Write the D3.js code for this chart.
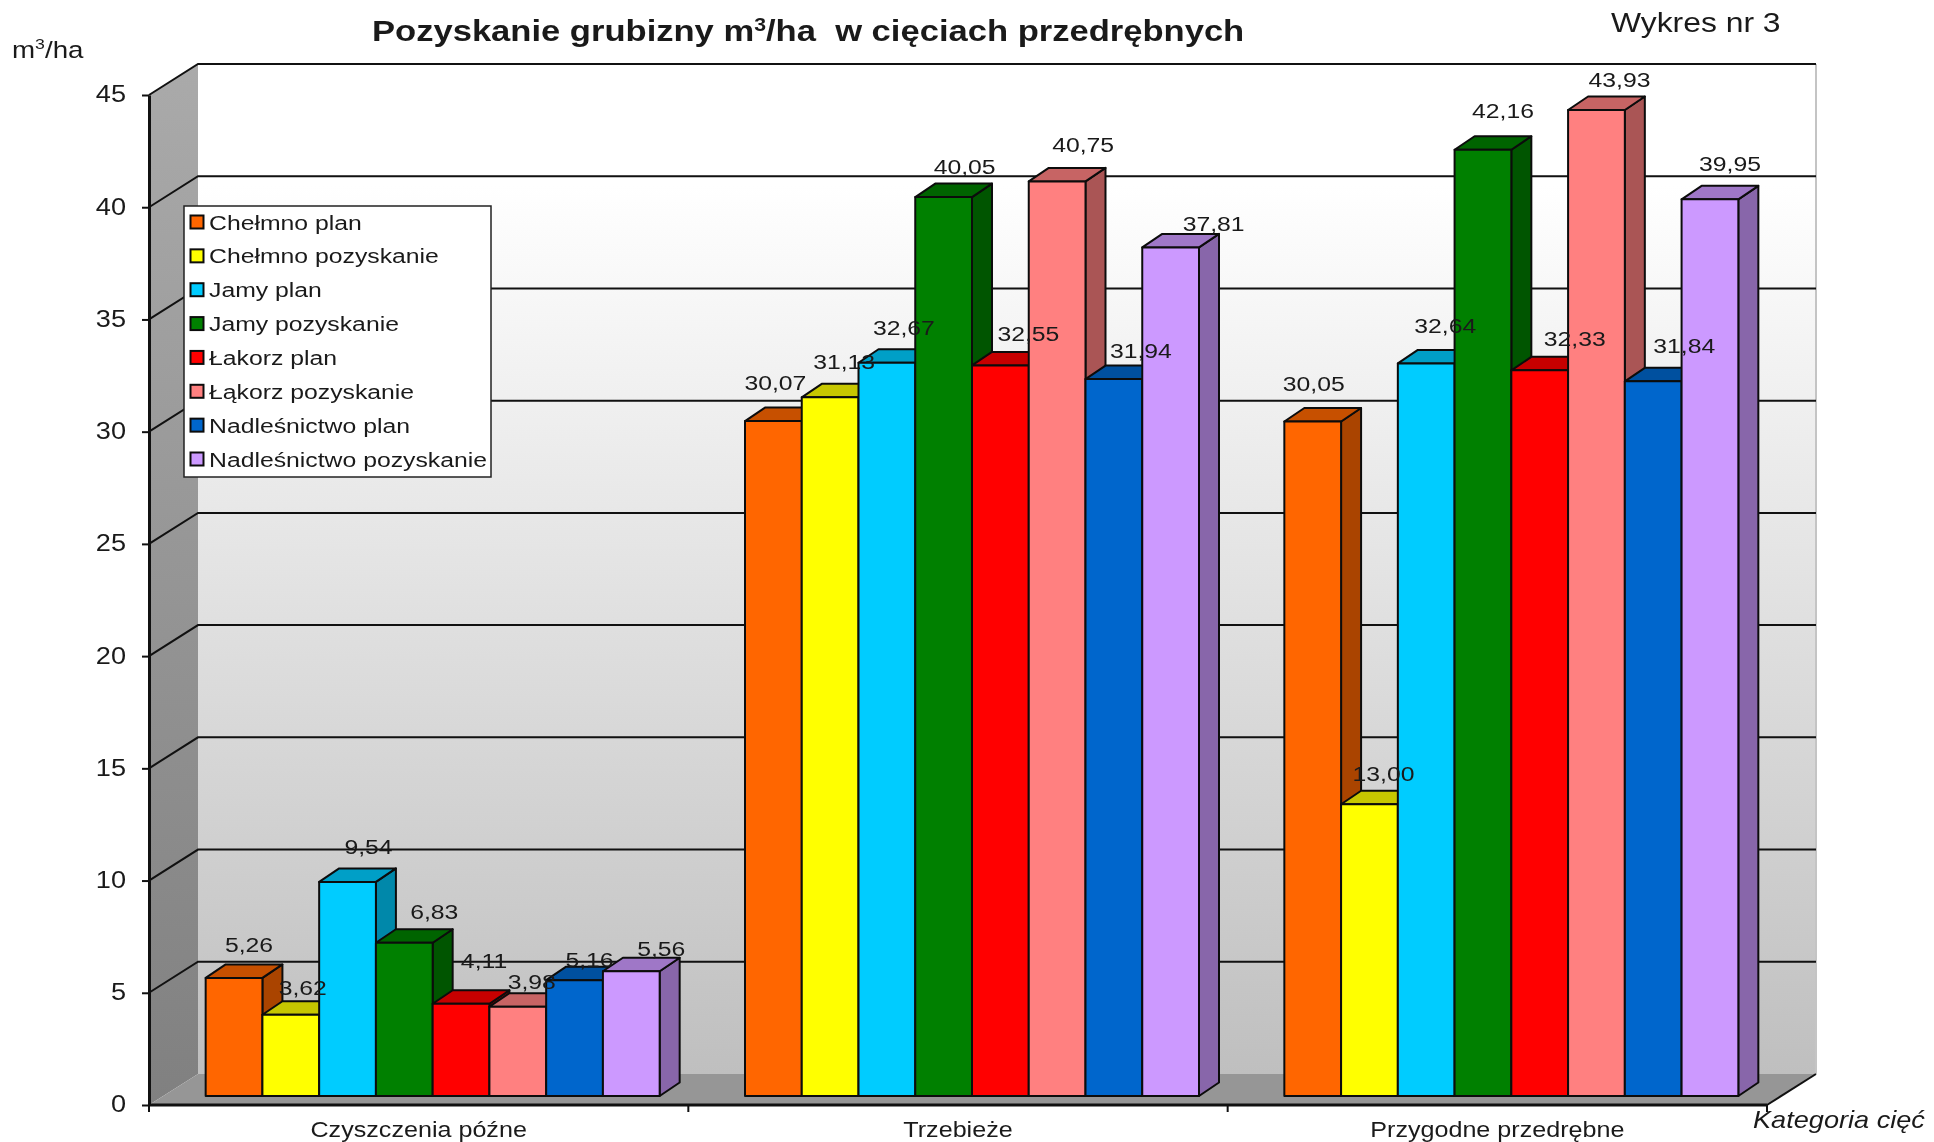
<!DOCTYPE html>
<html lang="pl">
	<head>
		<meta charset="UTF-8" />
		<title>Wykres nr 3</title>
		<script src="https://d3js.org/d3.v7.min.js"></script>
		<style>
			html, body { margin: 0; padding: 0; background: #fff; }
			svg { display: block; filter: blur(0.6px); }
			text { font-family: "Liberation Sans", Arial, sans-serif; fill: #1a1a1a; white-space: pre; }
		</style>
	</head>
	<body>
		<svg id="chart"></svg>
		<script>
			const categories = ["Czyszczenia późne", "Trzebieże", "Przygodne przedrębne"];
			const seriesNames = [
				"Chełmno plan", "Chełmno pozyskanie", "Jamy plan", "Jamy pozyskanie",
				"Łakorz plan", "Łąkorz pozyskanie", "Nadleśnictwo plan", "Nadleśnictwo pozyskanie"
			];
			const chelmnoPlan = [5.26, 30.07, 30.05];
			const chelmnoPozyskanie = [3.62, 31.13, 13.0];
			const jamyPlan = [9.54, 32.67, 32.64];
			const jamyPozyskanie = [6.83, 40.05, 42.16];
			const lakorzPlan = [4.11, 32.55, 32.33];
			const lakorzPozyskanie = [3.98, 40.75, 43.93];
			const nadlesnictwoPlan = [5.16, 31.94, 31.84];
			const nadlesnictwoPozyskanie = [5.56, 37.81, 39.95];
			const seriesValues = [
				chelmnoPlan, chelmnoPozyskanie, jamyPlan, jamyPozyskanie,
				lakorzPlan, lakorzPozyskanie, nadlesnictwoPlan, nadlesnictwoPozyskanie
			];
			const seriesColors = ["#ff6600", "#ffff00", "#00ccff", "#008000", "#ff0000", "#ff8080", "#0066cc", "#cc99ff"];
			const yTicks = [0, 5, 10, 15, 20, 25, 30, 35, 40, 45];

			// hand placed labels in the original, offset from the top of each bar [category][series]
			const labelDx = [
				[15, 12, 21, 30, 23, 14, 15, 30],
				[2, 14, 17, 21, 28, 26, 27, 43],
				[1, 14, 19, 20, 35, 23, 31, 20]
			];
			const labelDy = [
				[-33, -27, -35, -31, -43, -25, -20, -22],
				[-38, -35, -35, -30, -31, -36, -28, -23],
				[-38, -30, -37, -39, -31, -30, -35, -35]
			];

			const W = 1934, H = 1142;
			const plotLeft = 149, plotRight = 1767, plotTop = 95, plotBottom = 1105;
			const wallDx = 49, wallDy = -31;
			const barDx = 20, barDy = -13.5;
			const barOffX = 14, barOffY = -9;
			const groupW = 454;
			// the source picture is stretched sideways
			const sx = 1.18;

			const svg = d3.select("#chart").attr("width", W).attr("height", H);
			const defs = svg.append("defs");

			const wallGrad = defs.append("linearGradient").attr("id", "wall")
				.attr("x1", 0).attr("x2", 0).attr("y1", 0).attr("y2", 1);
			wallGrad.append("stop").attr("offset", 0.12).attr("stop-color", "#ffffff");
			wallGrad.append("stop").attr("offset", 1).attr("stop-color", "#bfbfbf");

			const sideGrad = defs.append("linearGradient").attr("id", "side")
				.attr("x1", 0).attr("x2", 0).attr("y1", 0).attr("y2", 1);
			sideGrad.append("stop").attr("offset", 0).attr("stop-color", "#aaaaaa");
			sideGrad.append("stop").attr("offset", 1).attr("stop-color", "#808080");

			const y = d3.scaleLinear().domain([0, 45]).range([plotBottom, plotTop]);
			const x0 = d3.scaleBand().domain(categories).range([plotLeft, plotRight]);
			const x1 = d3.scaleBand().domain(seriesNames).range([0, groupW]);

			const pts = (a) => a.map((p) => p.join(",")).join(" ");

			// stretched text helper
			function label(sel, px, py, str, size, anchor) {
				return sel.append("text")
					.attr("transform", `translate(${px},${py}) scale(${sx},1)`)
					.attr("text-anchor", anchor || "middle")
					.attr("font-size", size)
					.text(str);
			}

			// walls and floor
			svg.append("polygon")
				.attr("points", pts([[plotLeft + wallDx, plotTop + wallDy], [plotRight + wallDx, plotTop + wallDy], [plotRight + wallDx, plotBottom + wallDy], [plotLeft + wallDx, plotBottom + wallDy]]))
				.attr("fill", "url(#wall)");
			svg.append("line")
				.attr("x1", plotRight + wallDx).attr("x2", plotRight + wallDx)
				.attr("y1", plotTop + wallDy).attr("y2", plotBottom + wallDy)
				.attr("stroke", "#c4c4c4").attr("stroke-width", 2);
			svg.append("polygon")
				.attr("points", pts([[plotLeft, plotTop], [plotLeft + wallDx, plotTop + wallDy], [plotLeft + wallDx, plotBottom + wallDy], [plotLeft, plotBottom]]))
				.attr("fill", "url(#side)");
			svg.append("polygon")
				.attr("points", pts([[plotLeft, plotBottom], [plotLeft + wallDx, plotBottom + wallDy], [plotRight + wallDx, plotBottom + wallDy], [plotRight, plotBottom]]))
				.attr("fill", "#969696");

			// gridlines run along side wall then back wall
			svg.append("g").selectAll("polyline")
				.data(yTicks.filter((d) => d > 0))
				.join("polyline")
				.attr("points", (d) => pts([[plotLeft, y(d)], [plotLeft + wallDx, y(d) + wallDy], [plotRight + wallDx, y(d) + wallDy]]))
				.attr("fill", "none")
				.attr("stroke", "#111")
				.attr("stroke-width", 2);
			svg.append("line")
				.attr("x1", plotRight).attr("y1", plotBottom)
				.attr("x2", plotRight + wallDx).attr("y2", plotBottom + wallDy)
				.attr("stroke", "#111").attr("stroke-width", 2);

			// axes
			const yAxisG = svg.append("g")
				.attr("transform", `translate(${plotLeft},0)`)
				.call(d3.axisLeft(y).tickValues(yTicks).tickSize(7).tickSizeOuter(0));
			yAxisG.select(".domain").attr("stroke", "#111").attr("stroke-width", 3);
			yAxisG.selectAll(".tick line").attr("stroke", "#111").attr("stroke-width", 2);
			yAxisG.selectAll(".tick text")
				.attr("x", 0).attr("dy", "0.3em")
				.attr("transform", `translate(-23,0) scale(${sx},1)`)
				.attr("font-size", 23);
			yAxisG.attr("font-family", null);

			const xBoundaries = [plotLeft, ...categories.map((c) => x0(c) + x0.bandwidth())];
			const xAxisG = svg.append("g");
			xAxisG.append("line")
				.attr("x1", plotLeft).attr("x2", plotRight).attr("y1", plotBottom).attr("y2", plotBottom)
				.attr("stroke", "#111").attr("stroke-width", 3);
			xAxisG.selectAll(".xtick").data(xBoundaries).join("line")
				.attr("class", "xtick")
				.attr("x1", (d) => d).attr("x2", (d) => d)
				.attr("y1", plotBottom).attr("y2", plotBottom + 7)
				.attr("stroke", "#111").attr("stroke-width", 2);
			categories.forEach((c) => {
				label(xAxisG, x0(c) + x0.bandwidth() / 2, 1137, c, 21.3);
			});

			// bars, drawn left to right so later fronts cover earlier sides
			const base = y(0) + barOffY;
			const unit = (v) => plotBottom - y(v);
			const shade = (c, k) => {
				const r = d3.rgb(c);
				return d3.rgb(r.r * k, r.g * k, r.b * k).formatHex();
			};
			const barsG = svg.append("g");
			const labelsG = svg.append("g");
			const groupPad = (x0.bandwidth() - groupW) / 2;

			categories.forEach((cat, ci) => {
				seriesNames.forEach((name, si) => {
					const v = seriesValues[si][ci];
					const bx = x0(cat) + groupPad + barOffX + x1(name);
					const bw = x1.bandwidth();
					const ty = base - unit(v);
					const g = barsG.append("g")
						.attr("stroke", "#0c0c0c")
						.attr("stroke-width", 2)
						.attr("stroke-linejoin", "round");
					g.append("polygon")
						.attr("points", pts([[bx + bw, ty], [bx + bw + barDx, ty + barDy], [bx + bw + barDx, base + barDy], [bx + bw, base]]))
						.attr("fill", shade(seriesColors[si], 0.667));
					g.append("polygon")
						.attr("points", pts([[bx, ty], [bx + barDx, ty + barDy], [bx + bw + barDx, ty + barDy], [bx + bw, ty]]))
						.attr("fill", shade(seriesColors[si], 0.78));
					g.append("rect")
						.attr("x", bx).attr("y", ty).attr("width", bw).attr("height", base - ty)
						.attr("fill", seriesColors[si]);

					label(labelsG, bx + bw / 2 + labelDx[ci][si], ty + labelDy[ci][si] + 7,
						v.toFixed(2).replace(".", ","), 21);
				});
			});

			// legend
			const legend = svg.append("g");
			legend.append("rect")
				.attr("x", 184).attr("y", 206).attr("width", 307).attr("height", 271)
				.attr("fill", "#fff").attr("stroke", "#222").attr("stroke-width", 1.5);
			const legendY = d3.scalePoint().domain(seriesNames).range([222, 459]);
			seriesNames.forEach((name, i) => {
				legend.append("rect")
					.attr("x", 190.5).attr("y", legendY(name) - 6.5).attr("width", 13).attr("height", 13)
					.attr("fill", seriesColors[i]).attr("stroke", "#0c0c0c").attr("stroke-width", 2);
				label(legend, 209, legendY(name) + 7.5, name, 21, "start");
			});

			// titles
			const title = label(svg, 372, 41, null, 29.3, "start").attr("font-weight", "bold");
			title.append("tspan").text("Pozyskanie grubizny m");
			title.append("tspan").attr("font-size", 18).attr("dy", -10).text("3");
			title.append("tspan").attr("dy", 10).text("/ha  w cięciach przedrębnych");

			label(svg, 1611, 32, "Wykres nr 3", 27, "start");

			const unitLabel = label(svg, 12, 58, null, 23.5, "start");
			unitLabel.append("tspan").text("m");
			unitLabel.append("tspan").attr("font-size", 15).attr("dy", -9).text("3");
			unitLabel.append("tspan").attr("dy", 9).text("/ha");

			label(svg, 1753, 1128, "Kategoria cięć", 23, "start").attr("font-style", "italic");
		</script>
	</body>
</html>
